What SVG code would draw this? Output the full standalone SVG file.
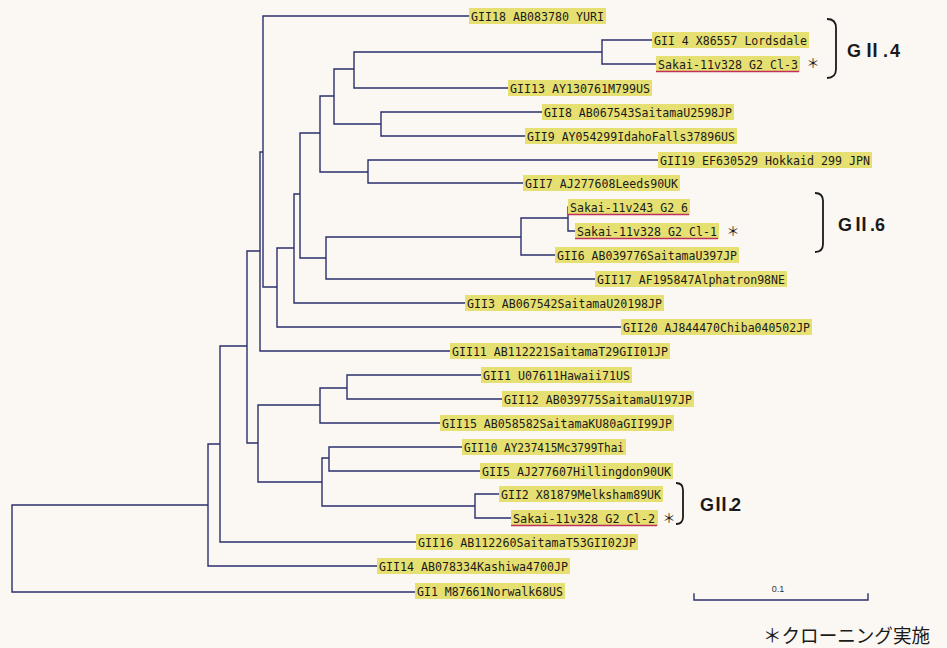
<svg xmlns="http://www.w3.org/2000/svg" width="947" height="648" viewBox="0 0 947 648">
<style>
.bg{fill:#fbf8f4}
.tree{fill:none;stroke:#2b2f6b;stroke-width:1.4;stroke-linecap:square}
.box{fill:#e6df72}
.lbl{font-family:"DejaVu Sans Mono","Liberation Mono",monospace;font-size:12px;fill:#1a1a1a}
.ul{stroke:#c0305a;stroke-width:1.4}
.br{fill:none;stroke:#1a1a1a;stroke-width:1.8}
.grp{font-family:"Liberation Sans","Noto Sans CJK JP",sans-serif;font-weight:bold;font-size:18px;fill:#1a1a1a}
.ast{font-family:"Noto Sans CJK JP",sans-serif;font-size:13px;fill:#1a1a1a;text-anchor:middle}
.scale{font-family:"Liberation Sans",sans-serif;font-size:9px;fill:#333;text-anchor:middle}
.note{font-family:"Noto Sans CJK JP",sans-serif;font-size:19px;fill:#1a1a1a}
</style>
<rect class="bg" x="0" y="0" width="947" height="648"/>
<g id="connectors">
<path class="tree" d="M12,505 V592 H415 M12,505 H208
M208,444 V566 H377 M208,444 H220
M220,346 V542 H416 M220,346 H247
M247,251 V443 H258 M247,251 H260
M260,152 V351 H450 M260,152 H263
M263,16 H469 M263,16 V287 H277
M277,248 V327 H621 M277,248 H294
M294,194 V303 H465 M294,194 H300
M300,133 V258 H326 M300,133 H320
M320,96 V172 H368 M320,96 H334
M334,69 V124 H381 M334,69 H354
M354,52 V88 H508 M354,52 H602
M602,40 V64 H656 M602,40 H652
M381,112 V136 H525 M381,112 H542
M368,160 V183 H523 M368,160 H658
M326,237 V279 H595 M326,237 H521
M521,218 V255 H555 M521,218 H568
M568,207 V231 H575
M258,405 V482 H322 M258,405 H320
M320,388 V423 H440 M320,388 H347
M347,375 V399 H502 M347,375 H481
M322,458 V506 H475 M322,458 H329
M329,447 V471 H480 M329,447 H462
M475,494 V518 H511 M475,494 H499"/>
</g>
<g id="n-gii18"><rect class="box" x="469" y="8" width="137" height="16"/><text class="lbl" x="471" y="20.5" textLength="133" lengthAdjust="spacingAndGlyphs">GII18 AB083780 YURI</text></g>
<g id="n-gii4"><rect class="box" x="652" y="32" width="157" height="16"/><text class="lbl" x="654" y="44.5" textLength="153" lengthAdjust="spacingAndGlyphs">GII 4 X86557 Lordsdale</text></g>
<g id="n-sakai-cl3"><rect class="box" x="656" y="56" width="144" height="16"/><text class="lbl" x="658" y="68.5" textLength="140" lengthAdjust="spacingAndGlyphs">Sakai-11v328 G2 Cl-3</text><line class="ul" x1="656" y1="71.5" x2="799" y2="71.5"/></g>
<text class="ast" x="813" y="68">＊</text>
<g id="n-gii13"><rect class="box" x="508" y="80" width="144" height="16"/><text class="lbl" x="510" y="92.5" textLength="140" lengthAdjust="spacingAndGlyphs">GII13 AY130761M799US</text></g>
<g id="n-gii8"><rect class="box" x="542" y="104" width="192" height="16"/><text class="lbl" x="544" y="116.5" textLength="188" lengthAdjust="spacingAndGlyphs">GII8 AB067543SaitamaU2598JP</text></g>
<g id="n-gii9"><rect class="box" x="525" y="128" width="212" height="16"/><text class="lbl" x="527" y="140.5" textLength="208" lengthAdjust="spacingAndGlyphs">GII9 AY054299IdahoFalls37896US</text></g>
<g id="n-gii19"><rect class="box" x="658" y="152" width="214" height="16"/><text class="lbl" x="660" y="164.5" textLength="210" lengthAdjust="spacingAndGlyphs">GII19 EF630529 Hokkaid 299 JPN</text></g>
<g id="n-gii7"><rect class="box" x="523" y="175" width="157" height="16"/><text class="lbl" x="525" y="187.5" textLength="153" lengthAdjust="spacingAndGlyphs">GII7 AJ277608Leeds90UK</text></g>
<g id="n-sakai-243"><rect class="box" x="568" y="199" width="122" height="16"/><text class="lbl" x="570" y="211.5" textLength="118" lengthAdjust="spacingAndGlyphs">Sakai-11v243 G2 6</text><line class="ul" x1="568" y1="214.5" x2="689" y2="214.5"/></g>
<g id="n-sakai-cl1"><rect class="box" x="575" y="223" width="144" height="16"/><text class="lbl" x="577" y="235.5" textLength="140" lengthAdjust="spacingAndGlyphs">Sakai-11v328 G2 Cl-1</text><line class="ul" x1="575" y1="238.5" x2="718" y2="238.5"/></g>
<text class="ast" x="733" y="236">＊</text>
<g id="n-gii6"><rect class="box" x="555" y="247" width="184" height="16"/><text class="lbl" x="557" y="259.5" textLength="180" lengthAdjust="spacingAndGlyphs">GII6 AB039776SaitamaU397JP</text></g>
<g id="n-gii17"><rect class="box" x="595" y="271" width="192" height="16"/><text class="lbl" x="597" y="283.5" textLength="188" lengthAdjust="spacingAndGlyphs">GII17 AF195847Alphatron98NE</text></g>
<g id="n-gii3"><rect class="box" x="465" y="295" width="199" height="16"/><text class="lbl" x="467" y="307.5" textLength="195" lengthAdjust="spacingAndGlyphs">GII3 AB067542SaitamaU20198JP</text></g>
<g id="n-gii20"><rect class="box" x="621" y="319" width="191" height="16"/><text class="lbl" x="623" y="331.5" textLength="187" lengthAdjust="spacingAndGlyphs">GII20 AJ844470Chiba040502JP</text></g>
<g id="n-gii11"><rect class="box" x="450" y="343" width="220" height="16"/><text class="lbl" x="452" y="355.5" textLength="216" lengthAdjust="spacingAndGlyphs">GII11 AB112221SaitamaT29GII01JP</text></g>
<g id="n-gii1"><rect class="box" x="481" y="367" width="151" height="16"/><text class="lbl" x="483" y="379.5" textLength="147" lengthAdjust="spacingAndGlyphs">GII1 U07611Hawaii71US</text></g>
<g id="n-gii12"><rect class="box" x="502" y="391" width="192" height="16"/><text class="lbl" x="504" y="403.5" textLength="188" lengthAdjust="spacingAndGlyphs">GII12 AB039775SaitamaU197JP</text></g>
<g id="n-gii15"><rect class="box" x="440" y="415" width="234" height="16"/><text class="lbl" x="442" y="427.5" textLength="230" lengthAdjust="spacingAndGlyphs">GII15 AB058582SaitamaKU80aGII99JP</text></g>
<g id="n-gii10"><rect class="box" x="462" y="439" width="164" height="16"/><text class="lbl" x="464" y="451.5" textLength="160" lengthAdjust="spacingAndGlyphs">GII10 AY237415Mc3799Thai</text></g>
<g id="n-gii5"><rect class="box" x="480" y="463" width="193" height="16"/><text class="lbl" x="482" y="475.5" textLength="189" lengthAdjust="spacingAndGlyphs">GII5 AJ277607Hillingdon90UK</text></g>
<g id="n-gii2"><rect class="box" x="499" y="486" width="164" height="16"/><text class="lbl" x="501" y="498.5" textLength="160" lengthAdjust="spacingAndGlyphs">GII2 X81879Melksham89UK</text></g>
<g id="n-sakai-cl2"><rect class="box" x="511" y="510" width="147" height="16"/><text class="lbl" x="513" y="522.5" textLength="142" lengthAdjust="spacingAndGlyphs">Sakai-11v328 G2 Cl-2</text><line class="ul" x1="511" y1="525.5" x2="657" y2="525.5"/></g>
<text class="ast" x="669" y="523">＊</text>
<g id="n-gii16"><rect class="box" x="416" y="534" width="222" height="16"/><text class="lbl" x="418" y="546.5" textLength="218" lengthAdjust="spacingAndGlyphs">GII16 AB112260SaitamaT53GII02JP</text></g>
<g id="n-gii14"><rect class="box" x="377" y="558" width="193" height="16"/><text class="lbl" x="379" y="570.5" textLength="189" lengthAdjust="spacingAndGlyphs">GII14 AB078334Kashiwa4700JP</text></g>
<g id="n-gi1"><rect class="box" x="415" y="583" width="150" height="16"/><text class="lbl" x="417" y="595.5" textLength="146" lengthAdjust="spacingAndGlyphs">GI1 M87661Norwalk68US</text></g>
<g id="g-gii4"><path class="br" d="M827,19 Q836,19 836,28 V69 Q836,78 827,78"/><text class="grp" x="847" y="57" textLength="53" lengthAdjust="spacing">GⅡ.4</text></g>
<g id="g-gii6"><path class="br" d="M815,193 Q823,193 823,201 V244 Q823,252 815,252"/><text class="grp" x="838" y="231" textLength="47" lengthAdjust="spacing">GⅡ.6</text></g>
<g id="g-gii2"><path class="br" d="M676,483 Q683,483 683,490 V517 Q683,524 676,524"/><text class="grp" x="700" y="511" textLength="41" lengthAdjust="spacing">GⅡ.2</text></g>
<g id="scalebar"><path class="tree" d="M694,594 V600 H868 V594"/><text class="scale" x="778" y="592">0.1</text></g>
<text class="note" x="763" y="643" textLength="167" lengthAdjust="spacingAndGlyphs">＊クローニング実施</text>
</svg>
